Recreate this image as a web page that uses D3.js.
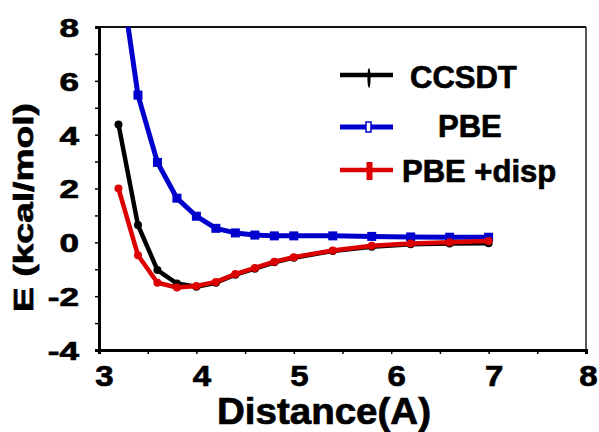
<!DOCTYPE html>
<html>
<head>
<meta charset="utf-8">
<script src="https://cdn.jsdelivr.net/npm/d3@7"></script>
<style>
  body { margin: 0; background: #fff; }
  text { font-family: "Liberation Sans", Arial, sans-serif; font-weight: bold; fill: #000; stroke: #000; stroke-width: 0.7px; }
</style>
</head>
<body>
<script>
var w = 599;
var h = 432;

// data
var distance = [3.2, 3.4, 3.6, 3.8, 4.0, 4.2, 4.4, 4.6, 4.8, 5.0, 5.4, 5.8, 6.2, 6.6, 7.0];
var ccsdt = [4.38, 0.64, -1.03, -1.53, -1.65, -1.5, -1.2, -0.98, -0.74, -0.57, -0.32, -0.16, -0.07, -0.04, -0.03];
var pbe = [10.5, 5.47, 2.97, 1.64, 0.97, 0.52, 0.35, 0.27, 0.24, 0.24, 0.24, 0.22, 0.2, 0.19, 0.19];
var pbeDisp = [2.0, -0.48, -1.5, -1.68, -1.62, -1.47, -1.18, -0.95, -0.72, -0.55, -0.3, -0.13, -0.04, 0.0, 0.05];

var seriesNames = ["CCSDT", "PBE", "PBE +disp"];
var xTicks = [3, 4, 5, 6, 7, 8];
var yTicks = [-4, -2, 0, 2, 4, 6, 8];

var series = [
  { name: seriesNames[0], values: ccsdt, color: "#000000", width: 4.5, marker: "circle" },
  { name: seriesNames[1], values: pbe, color: "#0000cc", width: 5, marker: "square" },
  { name: seriesNames[2], values: pbeDisp, color: "#dd0000", width: 4.5, marker: "circle" }
];

// scales
var xScale = d3.scaleLinear().domain([3, 8]).range([99, 586]);
var yScale = d3.scaleLinear().domain([-4, 8]).range([350, 27]);

var svg = d3.select("body").append("svg").attr("width", w).attr("height", h);

svg.append("clipPath").attr("id", "plot")
  .append("rect")
  .attr("x", xScale(3)).attr("y", yScale(8))
  .attr("width", xScale(8) - xScale(3)).attr("height", yScale(-4) - yScale(8));

// frame (top and right)
svg.append("line")
  .attr("x1", xScale(3)).attr("x2", xScale(8))
  .attr("y1", yScale(8)).attr("y2", yScale(8))
  .attr("stroke", "#111").attr("stroke-width", 2);
svg.append("line")
  .attr("x1", xScale(8)).attr("x2", xScale(8))
  .attr("y1", yScale(8)).attr("y2", yScale(-4))
  .attr("stroke", "#222").attr("stroke-width", 1.5);

// axes
var xAxis = d3.axisBottom(xScale).tickValues(d3.range(3, 8.01, 0.5)).tickSize(4)
  .tickFormat(function (d) { return xTicks.indexOf(d) >= 0 ? d : ""; });
var yAxis = d3.axisLeft(yScale).tickValues(d3.range(-4, 8.01, 1)).tickSize(4)
  .tickFormat(function (d) { return yTicks.indexOf(d) >= 0 ? d : ""; });

var gx = svg.append("g")
  .attr("transform", `translate(0,${yScale(-4)})`)
  .call(xAxis);
gx.select(".domain").attr("stroke-width", 3);
gx.selectAll(".tick line").attr("stroke-width", 1.5);
gx.selectAll(".tick text")
  .attr("y", 0)
  .attr("dy", 0)
  .attr("transform", function (d) { return d === 8 ? "translate(2,36) scale(1.1,1)" : "translate(5,36) scale(1.1,1)"; })
  .style("font-size", "30px");

var gy = svg.append("g")
  .attr("transform", `translate(${xScale(3)},0)`)
  .call(yAxis);
gy.select(".domain").attr("stroke-width", 3);
gy.selectAll(".tick line").attr("stroke-width", 1.5);
gy.selectAll(".tick text")
  .attr("x", 0)
  .attr("dy", "0.36em")
  .attr("transform", "translate(-20,0) scale(1.35,1)")
  .style("font-size", "26px");

svg.selectAll(".domain").attr("stroke", "#000");

// lines and markers
var line = d3.line()
  .x(function (d, i) { return xScale(distance[i]); })
  .y(function (d) { return yScale(d); });

var plot = svg.append("g").attr("clip-path", "url(#plot)");

series.forEach(function (s) {
  plot.append("path")
    .datum(s.values)
    .attr("fill", "none")
    .attr("stroke", s.color)
    .attr("stroke-width", s.width)
    .attr("stroke-linejoin", "round")
    .attr("d", line);

  if (s.marker === "square") {
    plot.selectAll(null)
      .data(s.values)
      .enter()
      .append("rect")
      .attr("x", function (d, i) { return xScale(distance[i]) - 4.5; })
      .attr("y", function (d) { return yScale(d) - 4.5; })
      .attr("width", 9).attr("height", 9)
      .attr("fill", s.color);
  } else {
    plot.selectAll(null)
      .data(s.values)
      .enter()
      .append("circle")
      .attr("cx", function (d, i) { return xScale(distance[i]); })
      .attr("cy", function (d) { return yScale(d); })
      .attr("r", 4)
      .attr("fill", s.color);
  }
});

// legend
var legendY = [75, 127, 170];
var legendTextX = [410, 438, 402];
var legendBase = [88, 137, 182];

series.forEach(function (s, i) {
  var lg = svg.append("g");
  lg.append("line")
    .attr("x1", 340).attr("x2", 393)
    .attr("y1", legendY[i]).attr("y2", legendY[i])
    .attr("stroke", s.color).attr("stroke-width", i === 1 ? 5 : 4.5);
  if (i === 0) {
    lg.append("ellipse").attr("cx", 369).attr("cy", legendY[i] + 3)
      .attr("rx", 1.6).attr("ry", 10).attr("fill", s.color);
  } else if (i === 1) {
    lg.append("rect").attr("x", 366).attr("y", legendY[i] - 5)
      .attr("width", 5).attr("height", 10)
      .attr("fill", "#fff").attr("stroke", s.color).attr("stroke-width", 1.5);
  } else {
    lg.append("rect").attr("x", 366.5).attr("y", legendY[i] - 8)
      .attr("width", 6).attr("height", 18).attr("fill", s.color);
  }
  lg.append("text")
    .attr("x", legendTextX[i]).attr("y", legendBase[i])
    .style("font-size", "31px")
    .text(s.name);
});

// axis titles
svg.append("text")
  .attr("x", 217).attr("y", 424)
  .attr("textLength", 214).attr("lengthAdjust", "spacingAndGlyphs")
  .style("font-size", "36px")
  .text("Distance(A)");

svg.append("text")
  .attr("transform", "translate(33,312) rotate(-90)")
  .attr("x", 0).attr("y", 0)
  .attr("textLength", 209).attr("lengthAdjust", "spacingAndGlyphs")
  .style("font-size", "28px")
  .text("E (kcal/mol)");
</script>
</body>
</html>
